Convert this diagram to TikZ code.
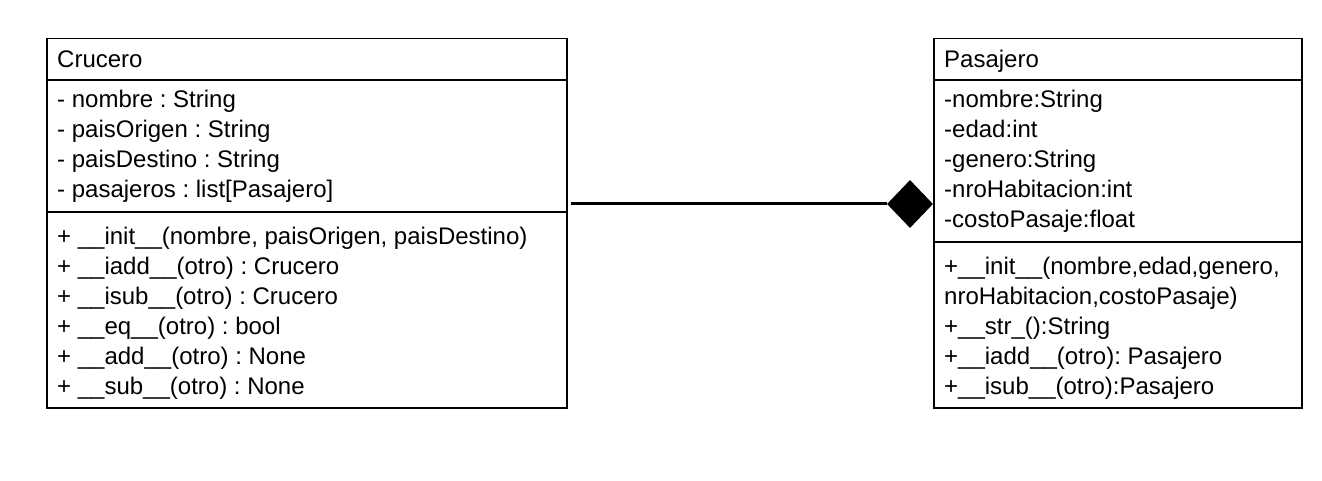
\documentclass[tikz,border=0pt]{standalone}
\usepackage{fontspec}
\setmainfont{Liberation Sans}
\usetikzlibrary{shapes.geometric}
\frenchspacing
\tikzset{
  classbox/.style={draw=black, line width=1.5pt, anchor=north west, inner sep=0pt, fill=white},
  sepline/.style={draw=black, line width=1.5pt},
  txt/.style={anchor=base west, inner sep=0pt, font=\fontsize{24}{30}\selectfont\frenchspacing},
  assoc/.style={draw=black, line width=3pt},
  compdia/.style={diamond, fill=black, inner sep=0pt, minimum width=46pt, minimum height=48pt}
}
\begin{document}
\begin{tikzpicture}[x=1pt, y=-1pt]
\useasboundingbox[fill=white] (0,0) rectangle (1322,481);

% Crucero
\node[classbox, minimum width=520pt, minimum height=369pt] (cru) at (46,38) {};
\draw[sepline] (46,80) -- (566,80);
\draw[sepline] (46,212) -- (566,212);
\node[txt] (cruT) at (57,68) {Crucero};
\node[txt] (cruA1) at (57,108) {- nombre : String};
\node[txt] (cruA2) at (57,138) {- paisOrigen : String};
\node[txt] (cruA3) at (57,168) {- paisDestino : String};
\node[txt] (cruA4) at (57,198) {- pasajeros : list[Pasajero]};
\node[txt] (cruM1) at (57,244) {+ \_\_init\_\_(nombre, paisOrigen, paisDestino)};
\node[txt] (cruM2) at (57,274) {+ \_\_iadd\_\_(otro) : Crucero};
\node[txt] (cruM3) at (57,304) {+ \_\_isub\_\_(otro) : Crucero};
\node[txt] (cruM4) at (57,334) {+ \_\_eq\_\_(otro) : bool};
\node[txt] (cruM5) at (57,364) {+ \_\_add\_\_(otro) : None};
\node[txt] (cruM6) at (57,394) {+ \_\_sub\_\_(otro) : None};

% Pasajero
\node[classbox, minimum width=368pt, minimum height=369pt] (pas) at (933,38) {};
\draw[sepline] (933,80) -- (1301,80);
\draw[sepline] (933,242) -- (1301,242);
\node[txt] (pasT) at (944,68) {Pasajero};
\node[txt] (pasA1) at (944,108) {-nombre:String};
\node[txt] (pasA2) at (944,138) {-edad:int};
\node[txt] (pasA3) at (944,168) {-genero:String};
\node[txt] (pasA4) at (944,198) {-nroHabitacion:int};
\node[txt] (pasA5) at (944,228) {-costoPasaje:float};
\node[txt] (pasM1) at (944,274) {+\_\_init\_\_(nombre,edad,genero,};
\node[txt] (pasM2) at (944,304) {nroHabitacion,costoPasaje)};
\node[txt] (pasM3) at (944,334) {+\_\_str\_():String};
\node[txt] (pasM4) at (944,364) {+\_\_iadd\_\_(otro): Pasajero};
\node[txt] (pasM5) at (944,394) {+\_\_isub\_\_(otro):Pasajero};

% composition
\node[compdia] (dia) at (910,204) {};
\draw[assoc] (cru.east |- dia.west) ++(3,0) coordinate (cstart) -- (dia.west);
\end{tikzpicture}
\end{document}
